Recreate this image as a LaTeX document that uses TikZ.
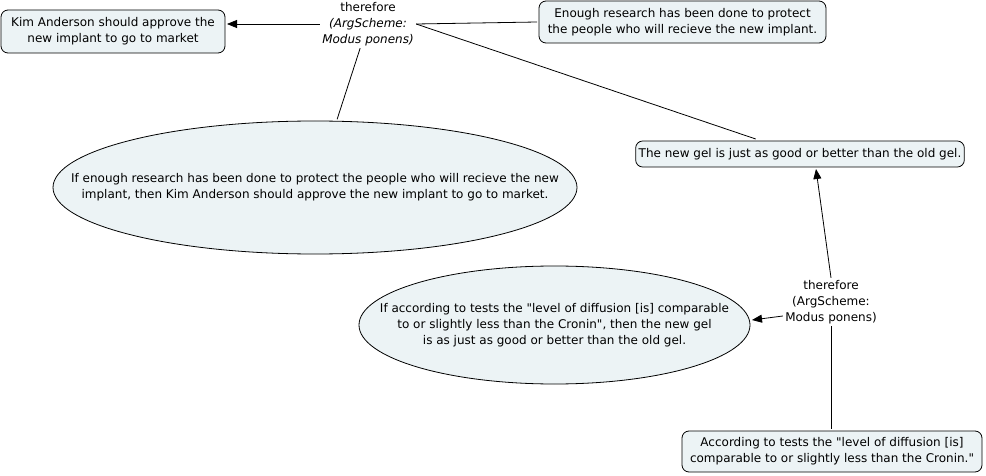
\documentclass[tikz,border=0pt]{standalone}
\usepackage{fontspec}
\setmainfont{DejaVu Sans}
\usetikzlibrary{shapes.geometric,arrows.meta}

\definecolor{boxfill}{RGB}{236,243,245}

\tikzset{
  claim/.style={draw, rounded corners=7pt, fill=boxfill, align=center, inner xsep=6pt, inner ysep=3pt, outer sep=2pt},
  premise/.style={draw, ellipse, fill=boxfill, inner sep=0pt, outer sep=2pt},
  infer/.style={align=center, inner sep=2pt},
}

\begin{document}
\begin{tikzpicture}[x=1pt, y=-1pt, line width=0.8pt, >={Triangle[length=10pt,width=8pt]}, font=\fontsize{12}{16}\selectfont]
  \useasboundingbox (0,0) rectangle (986,476);

  % claims
  \node[claim, minimum width=224pt, minimum height=43pt] (approve) at (113,31.5) {Kim Anderson should approve the\\new implant to go to market};
  \node[claim, minimum width=287pt, minimum height=42pt] (research) at (682.5,22) {Enough research has been done to protect\\the people who will recieve the new implant.};
  \node[claim, inner xsep=3pt, minimum width=318pt, minimum height=26pt] (gel) at (800,154) {The new gel is just as good or better than the old gel.};
  \node[claim, minimum width=300pt, minimum height=41pt] (diffusion) at (832,451.5) {According to tests the \textquotedbl level of diffusion [is]\\comparable to or slightly less than the Cronin.\textquotedbl};

  % warrants
  \node[premise, minimum width=524pt, minimum height=133pt,
    label={[align=center]center:If enough research has been done to protect the people who will recieve the new\\implant, then Kim Anderson should approve the new implant to go to market.}]
    (ifresearch) at (315,187.5) {};
  \node[premise, minimum width=391pt, minimum height=118pt,
    label={[align=center]center:If according to tests the \textquotedbl level of diffusion [is] comparable\\to or slightly less than the Cronin\textquotedbl, then the new gel\\is as just as good or better than the old gel.}]
    (ifdiffusion) at (554.5,325) {};

  % inferences
  \node[infer] (therefore1) at (368,24) {therefore\\\textit{(ArgScheme:}\\\textit{Modus ponens)}};
  \node[infer] (therefore2) at (831,302) {therefore\\(ArgScheme:\\Modus ponens)};

  \draw[->] (therefore1.west) -- (therefore1.west -| approve.east);
  \draw (therefore1.east) -- (research.west);
  \draw (therefore1.east) -- (gel);
  \draw (therefore1) -- (ifresearch);

  \draw[->] (therefore2.north) -- ([xshift=16pt]gel.south);
  \draw[->] ([yshift=-14pt]therefore2.west) -- ([yshift=5pt]ifdiffusion.east);
  \draw (therefore2.south) -- (therefore2.south |- diffusion.north);
\end{tikzpicture}
\end{document}
